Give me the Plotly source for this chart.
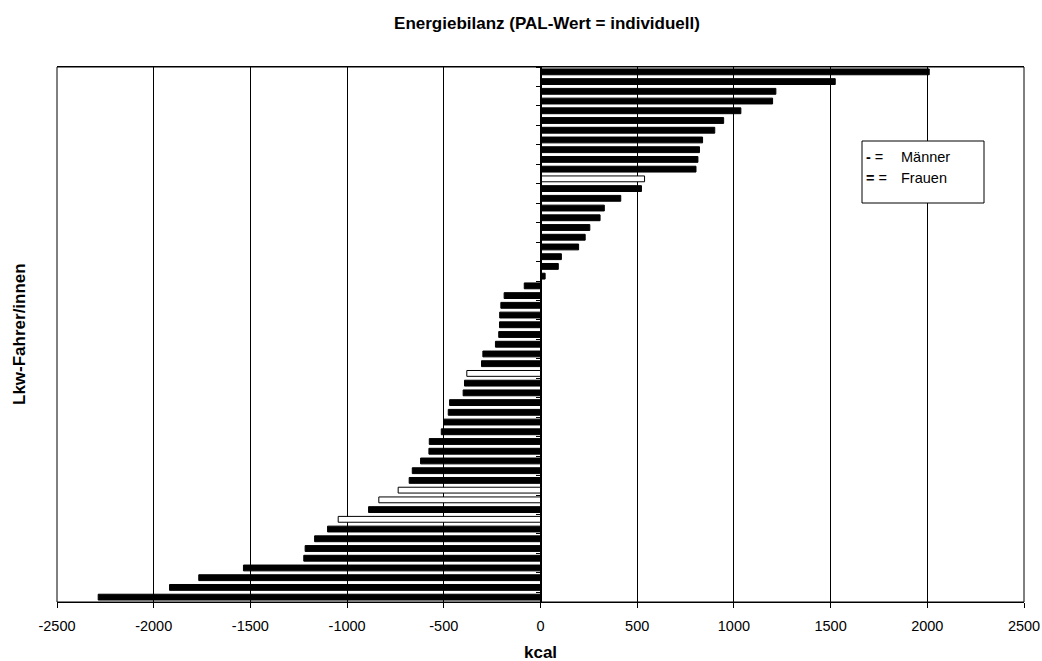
import plotly.graph_objects as go

# ---- data (top to bottom) ----
drivers = [str(i) for i in range(1, 56)]
kcal = [2010, 1524, 1217, 1200, 1036, 947, 901, 838, 822, 814, 804, 538, 522, 415,
        330, 308, 255, 231, 197, 108, 92, 24, -84, -188, -205, -211, -212, -216,
        -233, -298, -305, -381, -393, -400, -470, -477, -500, -513, -575, -577,
        -620, -663, -679, -736, -836, -889, -1046, -1101, -1168, -1217, -1224,
        -1536, -1767, -1918, -2287]
gender = ["M"] * 11 + ["F"] + ["M"] * 19 + ["F"] + ["M"] * 11 + ["F", "F", "M", "F"] + ["M"] * 8
x_ticks = [-2500, -2000, -1500, -1000, -500, 0, 500, 1000, 1500, 2000, 2500]

W, H = 1042, 661
L, R, T, B = 57, 1024, 67, 602
FONT = "Liberation Sans, Arial, sans-serif"

def px(x):
    return (x - L) / (R - L)

def py(y):
    return 1 - (y - T) / (B - T)

colors = ["black" if g == "M" else "white" for g in gender]

fig = go.Figure()
fig.add_trace(go.Bar(
    y=drivers, x=kcal, orientation="h",
    marker=dict(color=colors, line=dict(color="black", width=1)),
    width=0.6, showlegend=False, hoverinfo="x",
))

fig.update_layout(
    width=W, height=H,
    margin=dict(l=L, r=W - R, t=T, b=H - B, pad=0, autoexpand=False),
    showlegend=False,
    paper_bgcolor="white", plot_bgcolor="white",
    font=dict(family=FONT, size=14.5, color="black"),
    title=dict(text="<b>Energiebilanz (PAL-Wert = individuell)</b>",
               x=px(547), xref="paper", xanchor="center",
               y=1 - 23 / H, yanchor="middle", font=dict(size=17)),
    xaxis=dict(range=[-2500, 2500], tickvals=x_ticks,
               ticktext=[str(v) for v in x_ticks],
               showgrid=True, gridcolor="black", gridwidth=1,
               zeroline=False, showline=True, linecolor="black", linewidth=1,
               mirror=True, ticks="outside", ticklen=5, tickcolor="black",
               tickfont=dict(size=14.5), domain=[0, 1], automargin=False,
               ticklabelstandoff=6),
    yaxis=dict(autorange="reversed", type="category", showticklabels=False,
               anchor="free", position=0.5, showline=True, linecolor="black",
               linewidth=1, ticks="outside", ticklen=5, tickcolor="black",
               tickson="boundaries", showgrid=False, zeroline=False,
               automargin=False),
    shapes=[
        dict(type="rect", xref="paper", yref="paper", x0=0, x1=1, y0=0, y1=1,
             line=dict(color="black", width=1), fillcolor="rgba(0,0,0,0)", layer="above"),
        dict(type="rect", xref="paper", yref="paper", x0=px(862), x1=px(984),
             y0=py(203), y1=py(141), line=dict(color="black", width=1),
             fillcolor="white", layer="above"),
    ],
    annotations=[
        dict(text="<b>kcal</b>", xref="paper", yref="paper",
             x=px(540), y=py(652), showarrow=False,
             xanchor="center", yanchor="middle", font=dict(size=17)),
        dict(text="<b>Lkw-Fahrer/innen</b>", xref="paper", yref="paper",
             x=px(19), y=py(334), textangle=-90, showarrow=False,
             xanchor="center", yanchor="middle", font=dict(size=17)),
        dict(text="<b>-</b> =", xref="paper", yref="paper", x=px(864), y=py(157),
             showarrow=False, xanchor="left", yanchor="middle", font=dict(size=14.5)),
        dict(text="<b>=</b> =", xref="paper", yref="paper", x=px(864), y=py(178),
             showarrow=False, xanchor="left", yanchor="middle", font=dict(size=14.5)),
        dict(text="Männer", xref="paper", yref="paper", x=px(899), y=py(157),
             showarrow=False, xanchor="left", yanchor="middle", font=dict(size=14.5)),
        dict(text="Frauen", xref="paper", yref="paper", x=px(899), y=py(178),
             showarrow=False, xanchor="left", yanchor="middle", font=dict(size=14.5)),
    ],
)

fig.write_html("out.html")
